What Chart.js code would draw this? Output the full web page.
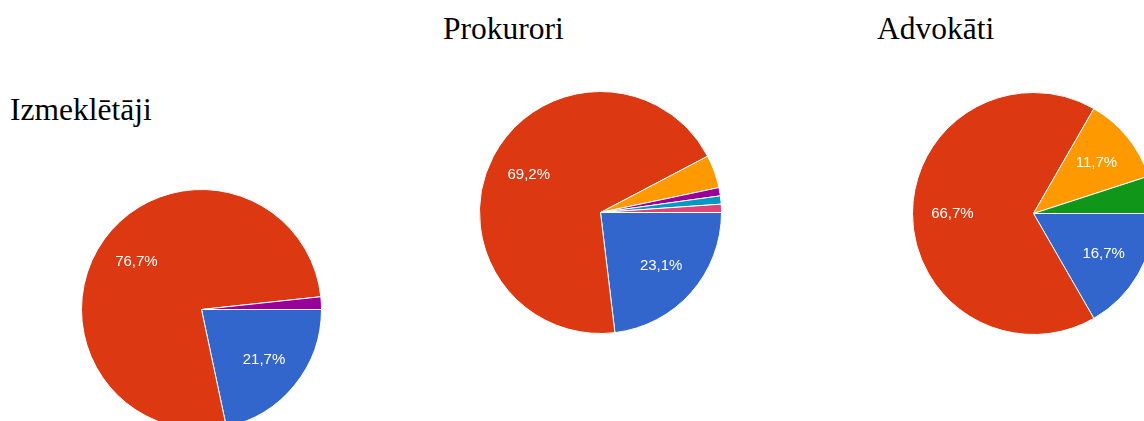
<!DOCTYPE html>
<html>
<head>
<meta charset="utf-8">
<script src="https://cdn.jsdelivr.net/npm/chart.js@4"></script>
<style>
  html, body { margin: 0; padding: 0; width: 1144px; height: 421px; overflow: hidden; background: #fff; }
  .title { position: absolute; font-family: "Liberation Serif", "Times New Roman", serif; font-size: 31.5px; color: #000; white-space: nowrap; line-height: 1; }
  .pie { position: absolute; }
</style>
</head>
<body>
<div class="title" id="t0" style="left:10px; top:94px;">Izmeklētāji</div>
<div class="title" id="t1" style="left:443px; top:13px;">Prokurori</div>
<div class="title" id="t2" style="left:877px; top:13px;">Advokāti</div>

<div class="pie" style="left:81px; top:189px; width:241px; height:241px;"><canvas id="c0"></canvas></div>
<div class="pie" style="left:479px; top:91px; width:243px; height:243px;"><canvas id="c1"></canvas></div>
<div class="pie" style="left:912px; top:92px; width:243px; height:243px;"><canvas id="c2"></canvas></div>

<script>
// Data (percent of respondents), clockwise from 3 o'clock
const izmLabels = ["A", "B", "E"];
const izmValues = [21.7, 76.7, 1.7];

const proLabels = ["A", "B", "C", "E", "F", "G"];
const proValues = [23.1, 69.2, 4.4, 1.1, 1.1, 1.1];

const advLabels = ["A", "B", "C", "D"];
const advValues = [16.7, 66.7, 11.7, 5.0];

// Colours (Google palette)
const palette = { A: "#3366cc", B: "#dc3912", C: "#ff9900", D: "#109618", E: "#990099", F: "#0099c6", G: "#dd4477" };

const sliceLabelPlugin = {
  id: "sliceLabels",
  afterDatasetsDraw(chart) {
    const ctx = chart.ctx;
    const meta = chart.getDatasetMeta(0);
    const data = chart.data.datasets[0].data;
    ctx.save();
    ctx.fillStyle = "#ffffff";
    ctx.font = "15px 'Liberation Sans', Arial, sans-serif";
    ctx.textAlign = "center";
    ctx.textBaseline = "middle";
    meta.data.forEach((arc, i) => {
      const v = data[i];
      if (v < 10) return;
      const p = arc.getProps(["x", "y", "startAngle", "endAngle", "outerRadius"], true);
      const mid = (p.startAngle + p.endAngle) / 2;
      const r = p.outerRadius * 0.67;
      const txt = v.toFixed(1).replace(".", ",") + "%";
      ctx.fillText(txt, p.x + Math.cos(mid) * r, p.y + Math.sin(mid) * r);
    });
    ctx.restore();
  }
};

function makePie(id, labels, values) {
  new Chart(document.getElementById(id), {
    type: "pie",
    data: {
      labels: labels,
      datasets: [{
        data: values,
        backgroundColor: labels.map(l => palette[l]),
        borderColor: "#ffffff",
        borderWidth: 1
      }]
    },
    options: {
      responsive: true,
      maintainAspectRatio: false,
      animation: false,
      rotation: 90,
      layout: { padding: 0 },
      events: [],
      plugins: { legend: { display: false }, tooltip: { enabled: false }, title: { display: false } }
    },
    plugins: [sliceLabelPlugin]
  });
}

makePie("c0", izmLabels, izmValues);
makePie("c1", proLabels, proValues);
makePie("c2", advLabels, advValues);
</script>
</body>
</html>
